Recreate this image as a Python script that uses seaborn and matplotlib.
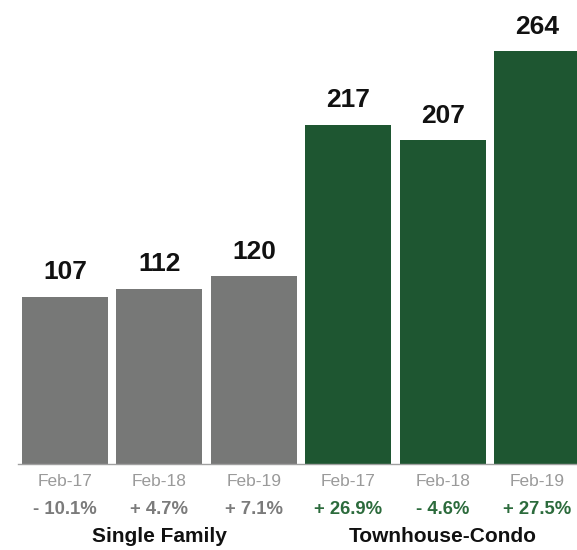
import matplotlib
matplotlib.use("Agg")
import matplotlib.pyplot as plt
import matplotlib.transforms as mtransforms
import seaborn as sns
import pandas as pd

categories = ["SF Feb-17", "SF Feb-18", "SF Feb-19", "TC Feb-17", "TC Feb-18", "TC Feb-19"]
tick_labels = ["Feb-17", "Feb-18", "Feb-19", "Feb-17", "Feb-18", "Feb-19"]
values = [107, 112, 120, 217, 207, 264]
groups = ["Single Family"] * 3 + ["Townhouse-Condo"] * 3
pct_labels = ["- 10.1%", "+ 4.7%", "+ 7.1%", "+ 26.9%", "- 4.6%", "+ 27.5%"]
group_names = ["Single Family", "Townhouse-Condo"]

GRAY = "#777877"
GREEN = "#1e5631"
PCT_COLORS = {"Single Family": "#7b7b7b", "Townhouse-Condo": "#2c6b3c"}

sns.set_style("white")
plt.rcParams["font.family"] = ["Liberation Sans", "DejaVu Sans"]

W, H = 577, 550
fig = plt.figure(figsize=(W / 100, H / 100), dpi=100)
slot = 94.5
left_px = 64.85 - slot / 2
ax = fig.add_axes([left_px / W, 86 / H, 6 * slot / W, 438 / H])

df = pd.DataFrame({"cat": categories, "value": values, "group": groups})
df["cat"] = pd.Categorical(df["cat"], categories=categories, ordered=True)

sns.barplot(data=df, x="cat", y="value", hue="group",
            palette={"Single Family": GRAY, "Townhouse-Condo": GREEN},
            dodge=False, width=0.907, saturation=1, legend=False,
            linewidth=0, ax=ax)

ax.set_ylim(0, 280)
ax.set_xlim(-0.5, 5.5)
ax.set_xlabel("")
ax.set_ylabel("")
ax.set_yticks([])
for s in ["top", "right", "left"]:
    ax.spines[s].set_visible(False)
ax.spines["bottom"].set_color("#a0a0a0")
ax.spines["bottom"].set_linewidth(1.0)

ax.set_xticks(range(len(categories)))
ax.set_xticklabels([])
ax.tick_params(axis="x", which="major", length=0)
ax.set_xticks([-0.5, 2.5, 5.5], minor=True)
ax.tick_params(axis="x", which="minor", length=5, color="#a0a0a0", width=1, direction="out")

for cont in ax.containers:
    ax.bar_label(cont, padding=9, fontsize=19, fontweight="bold", color="#111111")

trans = mtransforms.blended_transform_factory(ax.transData, fig.transFigure)
for i, (lab, pct, g) in enumerate(zip(tick_labels, pct_labels, groups)):
    fig.text(i, (H - 481) / H, lab, transform=trans, ha="center", va="center",
             fontsize=12.5, color="#9a9a9a")
    fig.text(i, (H - 510) / H, pct, transform=trans, ha="center", va="center",
             fontsize=13.3, fontweight="bold", color=PCT_COLORS[g])

for j, name in enumerate(group_names):
    fig.text(1 + 3 * j, (H - 537) / H, name, transform=trans, ha="center", va="center",
             fontsize=15, fontweight="bold", color="#111111")

fig.savefig("out.png", dpi=100)
